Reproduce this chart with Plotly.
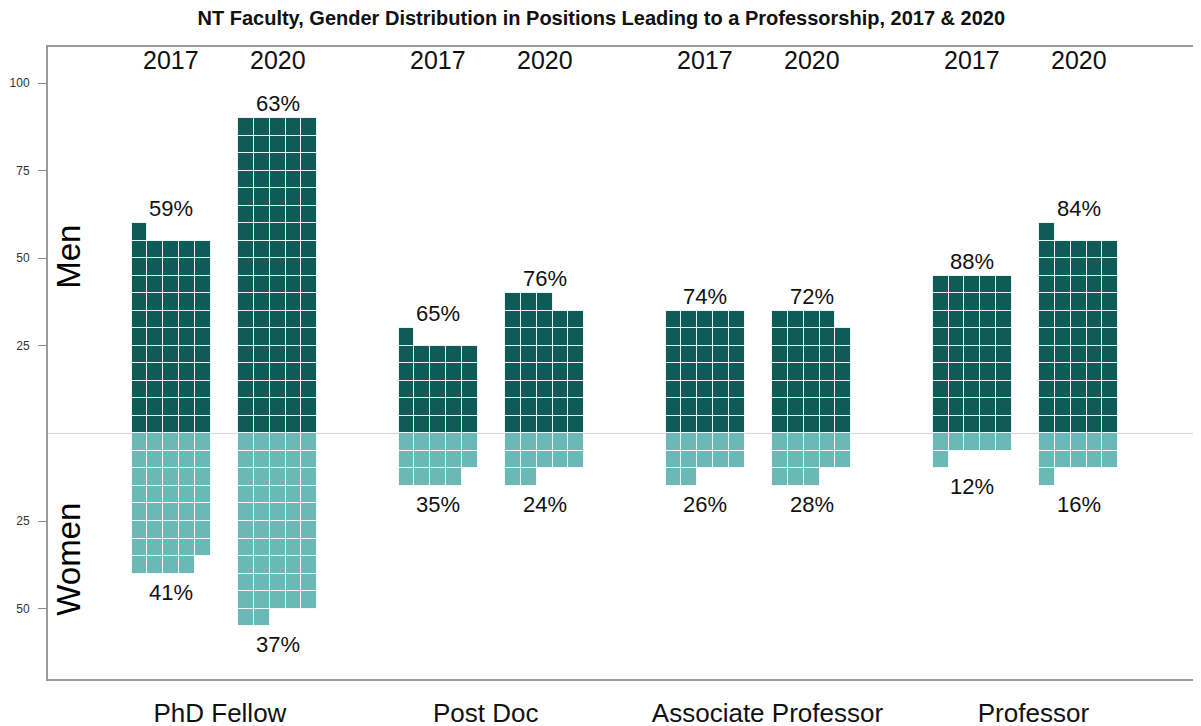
import plotly.graph_objects as go

# ---- data (people per position; one square = one person) ----
categories = ["PhD Fellow", "Post Doc", "Associate Professor", "Professor"]
years = ["2017", "2020"]
men_2017 = [56, 26, 35, 45]
men_2020 = [90, 38, 34, 56]
women_2017 = [39, 14, 12, 6]
women_2020 = [52, 12, 13, 11]
y_tick_vals = [100, 75, 50, 25, -25, -50]
y_tick_text = ["100", "75", "50", "25", "25", "50"]

# ---- layout constants ----
MEN_COLOR = "#0f5b58"
WOMEN_COLOR = "#6bb9b7"
PER_ROW = 5          # squares per row
ROW_H = 5            # y units per row
FIRST = 5.29         # x offset of first block (square widths)
GROUP_STEP = 16.9
YEAR_STEP = 6.74
LABEL_NUDGE = [-0.28, -0.36, 0.57, 0.5]   # category label nudges (square widths)

men = {"2017": men_2017, "2020": men_2020}
women = {"2017": women_2017, "2020": women_2020}

mx, mb, wx, wb = [], [], [], []
annotations = []
group_centers = []
for g, cat in enumerate(categories):
    centers = []
    for k, yr in enumerate(years):
        start = FIRST + g * GROUP_STEP + k * YEAR_STEP
        m = men[yr][g]
        w = women[yr][g]
        for i in range(m):
            mx.append(start + (i % PER_ROW) + 0.5)
            mb.append((i // PER_ROW) * ROW_H)
        for i in range(w):
            wx.append(start + (i % PER_ROW) + 0.5)
            wb.append(-((i // PER_ROW) + 1) * ROW_H)
        c = start + PER_ROW / 2
        centers.append(c)
        top = -(-m // PER_ROW) * ROW_H
        bot = -(-(-w // PER_ROW) * ROW_H)
        pm = round(100 * m / (m + w))
        pw = round(100 * w / (m + w))
        annotations.append(dict(x=c, y=top, xref="x", yref="y", text=f"{pm}%",
                                showarrow=False, yanchor="bottom", yshift=0,
                                font=dict(size=22, color="#111")))
        annotations.append(dict(x=c, y=bot, xref="x", yref="y", text=f"{pw}%",
                                showarrow=False, yanchor="top", yshift=-4,
                                font=dict(size=22, color="#111")))
        annotations.append(dict(x=c, y=106.5, xref="x", yref="y", text=yr,
                                showarrow=False, yanchor="middle",
                                font=dict(size=25, color="#111")))
    group_centers.append((centers[0] + centers[1]) / 2 + LABEL_NUDGE[g])

fig = go.Figure()
fig.add_trace(go.Bar(x=mx, y=[ROW_H] * len(mx), base=mb, width=1,
                     marker=dict(color=MEN_COLOR, line=dict(color="rgba(255,255,255,0.85)", width=1)),
                     hoverinfo="skip", name="Men"))
fig.add_trace(go.Bar(x=wx, y=[ROW_H] * len(wx), base=wb, width=1,
                     marker=dict(color=WOMEN_COLOR, line=dict(color="rgba(255,255,255,0.85)", width=1)),
                     hoverinfo="skip", name="Women"))

annotations.append(dict(x=1.28, y=50.5, xref="x", yref="y", text="Men", textangle=-90,
                        showarrow=False, font=dict(size=33, color="#000")))
annotations.append(dict(x=1.28, y=-36, xref="x", yref="y", text="Women", textangle=-90,
                        showarrow=False, font=dict(size=33, color="#000")))

fig.add_hline(y=0, line=dict(color="#d4d4d4", width=1), layer="below")

fig.update_layout(
    width=1201, height=726,
    margin=dict(l=40, r=10, t=39, b=55),
    paper_bgcolor="white", plot_bgcolor="white",
    barmode="overlay", bargap=0, showlegend=False,
    font=dict(family="Liberation Sans, Arial, sans-serif", color="#111"),
    title=dict(text="<b>NT Faculty, Gender Distribution in Positions Leading to a Professorship, 2017 & 2020</b>",
               x=0.494, xanchor="center", y=0.986, yanchor="middle",
               font=dict(size=20, color="#111")),
    annotations=annotations,
)
fig.update_xaxes(range=[0, 72.84], showgrid=False, zeroline=False, automargin=False,
                 showline=True, mirror=True, linecolor="#9a9a9a", linewidth=2,
                 tickvals=group_centers, ticktext=categories, ticks="",
                 tickfont=dict(size=26, color="#111"), ticklabelstandoff=10)
fig.update_yaxes(range=[-70.1, 110.3], showgrid=False, zeroline=False, automargin=False,
                 showline=True, mirror=True, linecolor="#9a9a9a", linewidth=2,
                 tickvals=y_tick_vals, ticktext=y_tick_text, ticks="outside",
                 ticklen=8, tickcolor="#888", tickwidth=1, ticklabelstandoff=6,
                 tickfont=dict(size=12, color="#333"))

fig.write_html("out.html")
